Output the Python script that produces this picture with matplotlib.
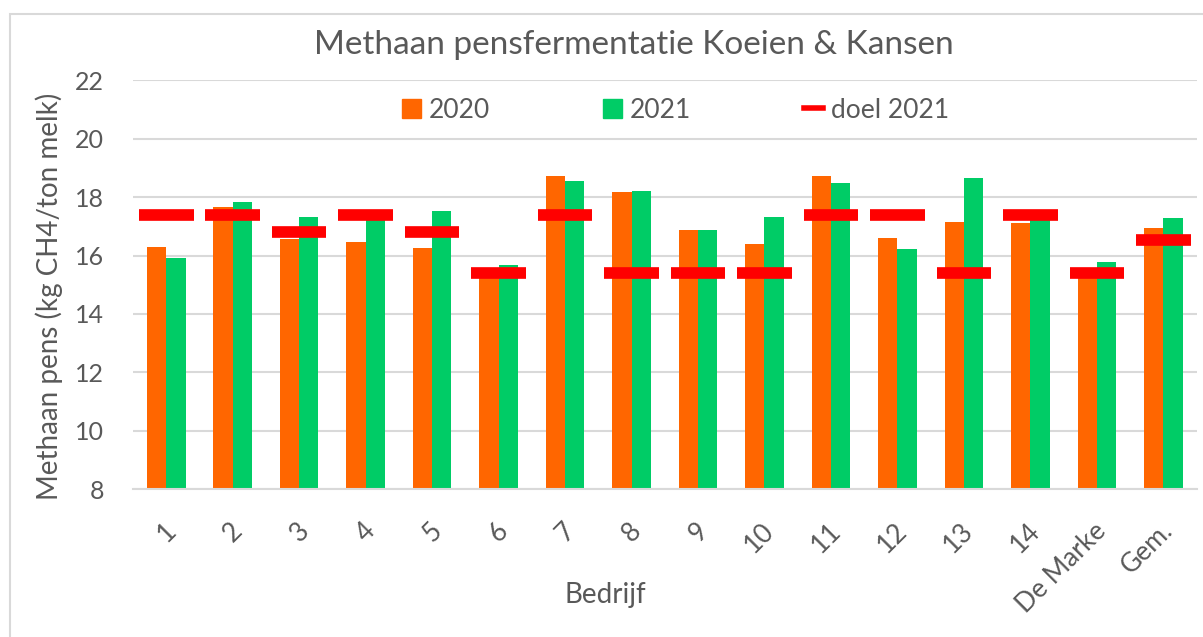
import numpy as np
import matplotlib.pyplot as plt
from matplotlib.lines import Line2D
from matplotlib.patches import Patch, Rectangle
import matplotlib.transforms as mtransforms

plt.rcParams['font.family'] = ['Lato', 'DejaVu Sans']

bedrijven = ['1', '2', '3', '4', '5', '6', '7', '8', '9', '10', '11', '12',
             '13', '14', 'De Marke', 'Gem.']
v2020 = [16.30, 17.66, 16.55, 16.47, 16.26, 15.35, 18.72, 18.17, 16.89, 16.39,
         18.72, 16.59, 17.16, 17.10, 15.35, 16.93]
v2021 = [15.91, 17.83, 17.32, 17.35, 17.52, 15.66, 18.55, 18.21, 16.89, 17.32,
         18.47, 16.22, 18.67, 17.45, 15.78, 17.27]
doel2021 = [17.4, 17.4, 16.8, 17.4, 16.8, 15.4, 17.4, 15.4, 15.4, 15.4,
            17.4, 17.4, 15.4, 17.4, 15.4, 16.52]

grey = '#595959'
oranje = '#ff6600'
groen = '#00cc66'
rood = '#ff0000'

fig = plt.figure(figsize=(12.03, 6.37), dpi=100)
ax = fig.add_axes([0.1106, 0.232, 0.884, 0.642])

x = np.arange(len(bedrijven))
w = 0.29
ax.bar(x - w / 2, v2020, w, color=oranje, zorder=2)
ax.bar(x + w / 2, v2021, w, color=groen, zorder=2)
for xi, d in zip(x, doel2021):
    ax.plot([xi - 0.41, xi + 0.41], [d, d], color=rood, lw=8.4,
            solid_capstyle='butt', zorder=3)

ax.set_ylim(8, 22)
ax.set_xlim(-0.5, len(bedrijven) - 0.5)
ax.set_yticks(np.arange(8, 23, 2))
ax.yaxis.grid(True, color='#d9d9d9', lw=1.5, zorder=0)
for s in ['top', 'right', 'left']:
    ax.spines[s].set_visible(False)
ax.spines['bottom'].set_color('#d9d9d9')
ax.spines['bottom'].set_linewidth(1.5)
ax.tick_params(length=0, colors=grey)
ax.tick_params(axis='y', labelsize=18, pad=21)
ax.tick_params(axis='x', labelsize=19, pad=12)

ax.set_xticks(x)
ax.set_xticklabels(bedrijven, rotation=45, ha='right', rotation_mode='anchor')
offset = mtransforms.ScaledTranslation(-0.03, -0.12, fig.dpi_scale_trans)
for lab in ax.get_xticklabels():
    lab.set_transform(lab.get_transform() + offset)

ax.set_xlabel('Bedrijf', fontsize=20, color=grey)
ax.xaxis.set_label_coords(0.444, -0.228)
ax.set_ylabel('Methaan pens (kg CH4/ton melk)', fontsize=20, color=grey)
ax.yaxis.set_label_coords(-0.066, 0.472)
fig.text(634 / 1203, 1 - 45 / 637, 'Methaan pensfermentatie Koeien & Kansen',
         fontsize=24, color=grey, ha='center', va='center')

handles = [Patch(color=oranje), Patch(color=groen),
           Line2D([], [], color=rood, lw=4)]
leg = ax.legend(handles, ['2020', '2021', 'doel 2021'], ncol=3, frameon=False,
                loc='center', bbox_to_anchor=(0.51, 0.927), fontsize=19,
                labelcolor=grey, handlelength=0.7, handleheight=0.7,
                handletextpad=0.3, columnspacing=4.3)

fig.patches.append(Rectangle((10 / 1203, -0.1), 1.2, 1 - 14 / 637 + 0.1,
                             transform=fig.transFigure, fill=False,
                             edgecolor='#d9d9d9', lw=1.5))

fig.savefig('out.png', dpi=100)
